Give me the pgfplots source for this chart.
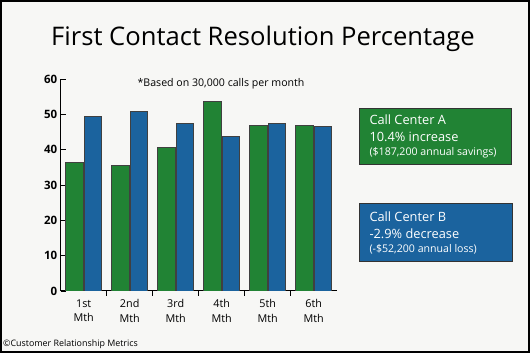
\documentclass[border=0pt]{standalone}
\usepackage{fontspec}
\setmainfont{Open Sans}
\usepackage{pgfplots}
\pgfplotsset{compat=1.18}
\definecolor{bg}{HTML}{F7F7F5}
\definecolor{cgreen}{RGB}{33,131,52}
\definecolor{cblue}{RGB}{27,99,158}
\begin{document}
\begin{tikzpicture}[x=1pt,y=1pt]
\useasboundingbox (0,0) rectangle (530,353);
\fill[bg] (0,0) rectangle (530,353);
\draw[line width=2pt] (1,1) rectangle (529,352);
\node[anchor=base, inner sep=0pt, font=\fontsize{25.6}{28}\selectfont] at (263,307) {First Contact Resolution Percentage};
\node[anchor=base, inner sep=0pt, font=\fontsize{10.6}{12}\selectfont] at (221,266) {*Based on 30,000 calls per month};
\begin{axis}[
  at={(60.7pt,62pt)}, anchor=south west,
  scale only axis, width=276pt, height=212pt,
  xmin=-0.5, xmax=5.5, ymin=0, ymax=60,
  axis x line*=bottom, axis y line*=left,
  axis line style={-, black, line width=1pt},
  ytick={0,10,...,60},
  xtick={0.5,1.5,2.5,3.5,4.5}, xticklabels={},
  extra x ticks={0,1,2,3,4,5},
  extra x tick labels={1st\\Mth,2nd\\Mth,3rd\\Mth,4th\\Mth,5th\\Mth,6th\\Mth},
  extra x tick style={tick style={draw=none}},
  tick align=inside, major tick length=5pt,
  tick style={black, line width=0.8pt},
  /pgf/number format/assume math mode=true,
  yticklabel style={font=\bfseries\fontsize{11.5}{12}\selectfont},
  xticklabel style={align=center, font=\fontsize{10.8}{14.3}\selectfont},
  ybar=1pt, bar width=17.5pt,
]
\addplot[fill=cgreen, draw=black!75, line width=0.5pt] coordinates {(0,36.4)(1,35.6)(2,40.7)(3,53.7)(4,46.9)(5,46.9)};
\addplot[fill=cblue, draw=black!75, line width=0.5pt] coordinates {(0,49.4)(1,50.8)(2,47.5)(3,43.8)(4,47.5)(5,46.6)};
\end{axis}
\draw[fill=cgreen, draw=black!80, line width=0.6pt] (359,189) rectangle (511,245);
\node[anchor=base west, inner sep=0pt, text=white, font=\fontsize{12.8}{15}\selectfont] at (369.3,228) {Call Center A};
\node[anchor=base west, inner sep=0pt, text=white, font=\fontsize{12.8}{15}\selectfont] at (369.3,211.3) {10.4\% increase};
\node[anchor=base west, inner sep=0pt, text=white, font=\fontsize{10.6}{12}\selectfont] at (369.3,197) {(\$187,200 annual savings)};
\draw[fill=cblue, draw=black!80, line width=0.6pt] (359,92) rectangle (512,150);
\node[anchor=base west, inner sep=0pt, text=white, font=\fontsize{12.8}{15}\selectfont] at (369.3,131.3) {Call Center B};
\node[anchor=base west, inner sep=0pt, text=white, font=\fontsize{12.8}{15}\selectfont] at (369.3,114.7) {-2.9\% decrease};
\node[anchor=base west, inner sep=0pt, text=white, font=\fontsize{10.6}{12}\selectfont] at (369.3,100.7) {(-\$52,200 annual loss)};
\node[anchor=base west, inner sep=0pt, font=\fontsize{8.9}{10}\selectfont] at (3,6) {\textcopyright Customer Relationship Metrics};
\end{tikzpicture}
\end{document}
